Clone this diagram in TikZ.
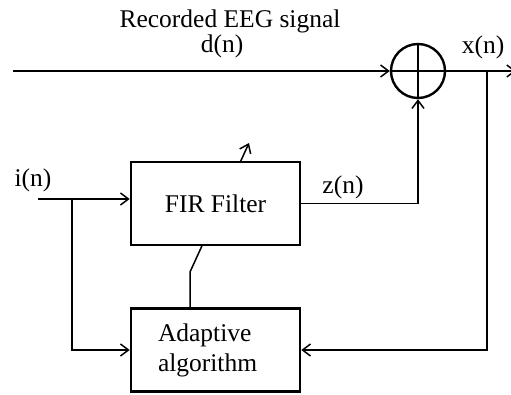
\documentclass[tikz,border=0pt]{standalone}
\usepackage{fontspec}
\setmainfont{Liberation Serif}
\usepackage{tikz}
\usetikzlibrary{arrows.meta,positioning,calc,backgrounds}

\begin{document}
\begin{tikzpicture}[
    x=1pt,y=-1pt,
    every node/.style={font=\fontsize{25.5}{30}\selectfont},
    block/.style={rectangle,draw,fill=white,line width=2.6pt,minimum width=169pt,minimum height=83pt,inner sep=0pt},
    arrow/.style={-{Straight Barb[length=8pt,width=12pt]},line width=1.5pt},
    wire/.style={line width=1.5pt},
    sig/.style={inner sep=0pt}
]
\useasboundingbox (0,0) rectangle (511,395);
\node[block] (fir) at (215.5,203.5) {FIR Filter};
\node[block,align=left,text width=115pt,inner xsep=27pt] (adapt) at (215.5,350) {Adaptive\\algorithm};
\node[circle,draw,line width=2.4pt,minimum size=54pt,inner sep=0pt] (sum) at (418,71) {};
\draw[wire] (sum.north) -- (sum.south) (sum.west) -- (sum.east);

\coordinate (din) at (13,71);
\coordinate (xout) at (516,71);
\coordinate (tap) at (487,71);
\coordinate (iin) at (38,199);
\coordinate (split) at (72,199);
\coordinate (kink) at (190,272);
\coordinate (tune) at (249,143);

\node[sig] (rec) at (230,21) {Recorded EEG signal};
\node[sig] (dn) at (222,46) {d(n)};
\node[sig] (xn) at (483,47) {x(n)};
\node[sig] (in) at (33,180) {i(n)};
\node[sig] (zn) at (343,187) {z(n)};

\draw[arrow] (din) -- (sum.west);
\draw[arrow] (sum.east) -- (xout);
\draw[arrow] (iin) -- (fir.west |- iin);
\draw[arrow] (split) |- (adapt.west);
\draw[arrow] (fir.east) -| (sum.south);
\draw[arrow] (tap) |- (adapt.east);
\begin{scope}[on background layer]
\draw[arrow] (adapt.north -| kink) -- (kink) -- (tune);
\end{scope}
\end{tikzpicture}
\end{document}
